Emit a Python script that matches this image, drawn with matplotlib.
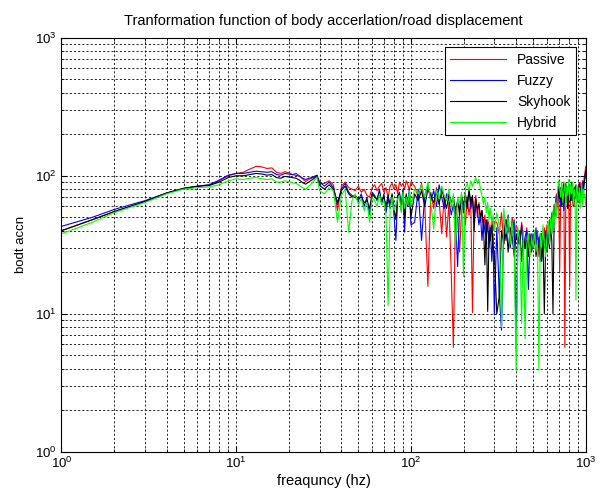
import matplotlib
matplotlib.use("Agg")
import matplotlib.pyplot as plt

plt.rcParams.update({
    'font.family': ['Liberation Sans', 'DejaVu Sans'],
    'font.size': 10,
    'mathtext.fontset': 'custom',
    'mathtext.rm': 'Liberation Sans',
    'mathtext.it': 'Liberation Sans',
})

# frequency points (hz)
freq = [1, 1.5, 2, 3, 4, 5, 6, 7, 8, 9, 10, 11, 12, 13, 14, 15, 16, 17, 18, 19, 20,
        21, 22, 23, 24, 25, 26, 27, 28, 29, 30,
        32, 34, 36, 38, 40, 42, 44, 46, 48, 50, 52, 54, 56, 58, 60, 62, 64, 66, 68, 70,
        72, 74, 76, 78, 80, 82, 84, 86, 88, 90, 92, 94, 96, 98, 100,
        105, 110, 115, 120, 125, 130, 135, 140, 145, 150, 155, 160, 165, 170, 175, 180,
        185, 190, 195, 200, 205, 210, 215, 220, 225, 230, 235, 240, 245, 250, 255, 260,
        265, 270, 275, 280, 285, 290, 295, 300,
        310, 320, 330, 340, 350, 360, 370, 380, 390, 400,
        410, 420, 430, 440, 450, 460, 470, 480, 490, 500,
        510, 520, 530, 540, 550, 560, 570, 580, 590, 600,
        610, 620, 630, 640, 650, 660, 670, 680, 690, 700,
        710, 720, 730, 740, 750, 760, 770, 780, 790, 800,
        810, 820, 830, 840, 850, 860, 870, 880, 890, 900,
        910, 920, 930, 940, 950, 960, 970, 980, 990, 1000]

passive = [40, 48, 55, 65, 75, 81, 84, 86, 92, 100, 104, 106, 112, 117, 116, 113, 114, 106, 104, 107, 105,
           102, 104, 100, 95, 91, 94, 96, 98, 100, 88,
           88, 92, 86, 56, 84, 90, 82, 80, 78, 84, 76, 80, 72, 70, 82, 86, 78, 84, 88, 76,
           82, 70, 84, 88, 80, 86, 74, 90, 84, 88, 80, 92, 86, 78, 90,
           84, 70, 88, 62, 15.8, 76, 58, 82, 66, 38, 72, 36, 64, 20, 5.7, 60,
           48, 28, 56, 62, 44, 70, 52, 66, 10.2, 58, 72, 50, 64, 46, 56, 42,
           52, 38, 48, 44, 36, 50, 40, 46,
           46, 38, 54, 32, 48, 42, 36, 50, 34, 44,
           40, 32, 46, 36, 30, 42, 34, 28, 38, 32,
           36, 30, 40, 26, 34, 38, 28, 42, 32, 44,
           36, 48, 40, 54, 46, 62, 52, 74, 66, 82,
           20, 74, 86, 62, 90, 5.7, 70, 84, 58, 76,
           15.6, 80, 66, 88, 72, 60, 84, 70, 78, 64,
           86, 74, 90, 80, 70, 92, 84, 96, 104, 117]

fuzzy = [43, 50, 57, 66, 75, 81, 84, 86, 93, 101, 104, 104, 106, 108, 107, 106, 107, 102, 101, 104, 103,
         102, 101, 99, 96, 94, 96, 97, 99, 101, 90,
         84, 90, 82, 62, 80, 88, 76, 72, 70, 66, 74, 60, 70, 52, 76, 72, 66, 80, 62, 74,
         54, 68, 58, 72, 52, 34, 70, 76, 60, 80, 39, 72, 64, 80, 44,
         46, 80, 34, 72, 84, 66, 78, 60, 86, 70, 58, 74, 66, 52, 62, 48,
         22, 60, 72, 54, 66, 62, 78, 58, 70, 50, 64, 56, 44, 52, 34, 48,
         40, 36, 46, 30, 42, 24, 38, 9.8,
         42, 14, 7.6, 46, 34, 52, 30, 40, 48, 5.6,
         38, 32, 44, 28, 36, 40, 15, 34, 30, 38,
         32, 42, 28, 36, 24, 38, 32, 30, 40, 34,
         42, 32, 48, 38, 54, 44, 60, 72, 64, 88,
         74, 60, 82, 70, 56, 78, 88, 66, 80, 72,
         84, 68, 90, 76, 62, 82, 72, 86, 70, 80,
         74, 88, 66, 82, 78, 90, 72, 86, 98, 110]

skyhook = [40, 48, 55, 65, 75, 81, 84, 85, 90, 97, 100, 100, 102, 104, 103, 101, 102, 97, 96, 99, 98,
           97, 96, 93, 89, 87, 90, 93, 96, 100, 85,
           80, 86, 80, 64, 78, 84, 74, 70, 72, 68, 70, 64, 66, 58, 74, 70, 68, 76, 66, 70,
           60, 72, 62, 74, 58, 48, 72, 74, 56, 78, 50, 74, 60, 76, 50,
           74, 66, 78, 60, 80, 72, 64, 76, 62, 80, 68, 58, 74, 64, 70, 56,
           66, 52, 70, 62, 74, 58, 80, 64, 72, 40, 68, 58, 62, 50, 56, 44,
           22.6, 48, 10.4, 40, 34, 46, 30, 28,
           10, 13.3, 40, 32, 48, 28, 42, 36, 26, 38,
           32, 40, 24, 36, 30, 34, 26, 38, 28, 32,
           36, 26, 32, 30, 38, 24, 34, 10, 32, 28,
           38, 30, 42, 34, 10, 46, 58, 52, 68, 80,
           68, 82, 60, 76, 86, 64, 80, 70, 58, 84,
           72, 66, 86, 78, 60, 80, 68, 74, 82, 70,
           78, 64, 84, 72, 88, 76, 82, 90, 96, 105]

hybrid = [38, 46, 54, 64, 74, 80, 82, 83, 86, 92, 95, 94, 96, 97, 95, 94, 95, 90, 90, 92, 91,
          89, 88, 85, 82, 80, 84, 88, 93, 98, 78,
          74, 82, 78, 46, 72, 80, 39, 66, 74, 62, 68, 56, 64, 46, 70, 66, 60, 74, 62, 66,
          52, 11.5, 58, 70, 56, 62, 68, 72, 54, 76, 58, 70, 62, 78, 60,
          80, 74, 86, 70, 90, 64, 41, 78, 68, 84, 72, 66, 80, 58, 74, 30,
          70, 62, 76, 18.6, 82, 88, 78, 92, 84, 90, 97, 88, 94, 80, 72, 62,
          70, 54, 64, 48, 58, 44, 52, 40,
          54, 44, 8, 58, 38, 50, 32, 46, 28, 3.9,
          42, 34, 8.5, 40, 6.6, 32, 38, 26, 36, 30,
          40, 28, 34, 3.9, 38, 30, 44, 32, 26, 36,
          46, 32, 50, 38, 56, 42, 64, 50, 76, 92,
          82, 70, 90, 64, 78, 88, 60, 84, 72, 94,
          68, 86, 74, 90, 62, 80, 72, 12.6, 84, 76,
          66, 82, 58, 76, 88, 62, 80, 70, 74, 60]

fig = plt.figure(figsize=(5.97, 4.97), dpi=100)
ax = fig.add_axes([0.103, 0.091, 0.878, 0.833])

ax.loglog(freq, passive, color='#ff0000', lw=0.8, label='Passive')
ax.loglog(freq, fuzzy, color='#0000ff', lw=0.8, label='Fuzzy')
ax.loglog(freq, skyhook, color='#000000', lw=0.8, label='Skyhook')
ax.loglog(freq, hybrid, color='#00ff00', lw=0.8, label='Hybrid')

ax.set_xlim(1, 1000)
ax.set_ylim(1, 1000)

ax.grid(True, which='both', color='black', linestyle=(0, (2.5, 2.5)), linewidth=0.6)
ax.tick_params(which='both', direction='in', top=True, right=True, labelsize=9.5)
ax.tick_params(which='major', length=4)
ax.tick_params(which='minor', length=2)
ax.tick_params(axis='x', which='major', pad=3)
for s in ax.spines.values():
    s.set_linewidth(0.8)

ax.set_title('Tranformation function of body accerlation/road displacement', fontsize=10.5, pad=9)
ax.set_xlabel('freaquncy (hz)', fontsize=10.5, labelpad=2)
ax.set_ylabel('bodt accn', fontsize=9.5, labelpad=6)

leg = ax.legend(loc='upper right', fancybox=False, framealpha=1, edgecolor='black',
                handlelength=4, fontsize=10, borderaxespad=0.7)
leg.get_frame().set_linewidth(0.8)

fig.savefig('out.png', dpi=100)
